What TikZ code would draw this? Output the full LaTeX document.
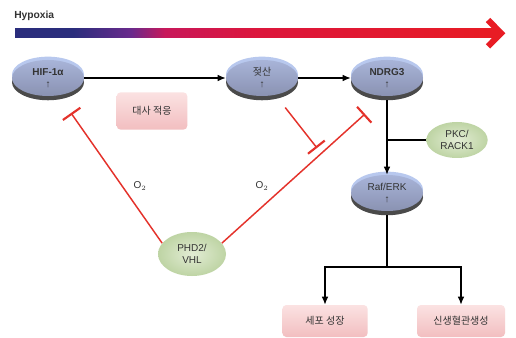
\documentclass[tikz,border=0pt]{standalone}
\usepackage{fontspec}
\setmainfont{Liberation Sans}
\newfontfamily\kr{Noto Sans CJK KR}
\usetikzlibrary{shapes.geometric,arrows.meta,shadows}
\definecolor{navyc}{HTML}{2A2D7C}
\definecolor{purpc}{HTML}{6A2A8C}
\definecolor{crimc}{HTML}{C8185A}
\definecolor{redm}{HTML}{DC163C}
\definecolor{redr}{HTML}{E81C24}
\definecolor{hred}{HTML}{E4322B}
\definecolor{blueTop}{HTML}{A8B4D8}
\definecolor{blueBot}{HTML}{8A92B2}
\definecolor{blueHl}{HTML}{B8C8EE}
\definecolor{shgray}{HTML}{4A4A4A}
\definecolor{greenTop}{HTML}{E2ECD4}
\definecolor{greenBot}{HTML}{BED4A4}
\definecolor{pinkTop}{HTML}{FBE2E2}
\definecolor{pinkBot}{HTML}{F2BEC0}
\definecolor{txt}{HTML}{333333}
\pgfdeclarehorizontalshading{hyp}{100bp}{color(0bp)=(navyc); color(25bp)=(navyc); color(31bp)=(navyc); color(37bp)=(purpc); color(40.5bp)=(crimc); color(50bp)=(redm); color(75bp)=(redr); color(100bp)=(redr)}
\tikzset{
  lab/.style={font=\fontsize{7.5}{9}\selectfont, text=txt, align=center},
  disc/.style={lab, ellipse, inner sep=0pt, minimum width=54pt, minimum height=27pt,
    top color=blueTop, bottom color=blueBot,
    general shadow={shadow xshift=0pt, shadow yshift=-3.2pt, fill=shgray},
    general shadow={shadow xshift=0pt, shadow yshift=2.5pt, fill=blueHl}},
  leaf/.style={lab, ellipse, inner sep=0pt, minimum width=46pt, minimum height=27pt,
    inner color=greenTop, outer color=greenBot},
  pbox/.style={lab, rectangle, rounded corners=3pt, inner sep=0pt,
    top color=pinkTop, bottom color=pinkBot},
  arr/.style={-{Latex[length=6pt,width=5pt]}, line width=0.95pt, black},
  blk/.style={line width=0.95pt, black},
  inh/.style={draw=hred, line width=1.1pt, -{Bar[width=16pt,line width=1.6pt]}}
}
\begin{document}
\begin{tikzpicture}[x=0.75pt,y=-0.75pt]
\useasboundingbox[fill=white] (0,0) rectangle (516,338);
% Hypoxia gradient
\node[anchor=west, inner sep=0pt, font=\fontsize{7.7}{9}\selectfont\bfseries, text=txt] (hyp) at (14,16) {Hypoxia};
\shade[shading=hyp] (15,29) rectangle (499,37.5);
\draw[redr, line width=4.6pt, line join=miter, line cap=butt] (488,20) -- (501,33.2) -- (488,46.4);
% nodes
\node[disc] (hif) at (48,78) {\textbf{HIF-1α}\\\textbf{↑}};
\node[disc] (lac) at (262,78) {{\kr 젖산}\\\textbf{↑}};
\node[disc] (nd) at (387,78) {\textbf{NDRG3}\\\textbf{↑}};
\node[disc] (raf) at (387,193) {Raf/ERK\\\textbf{↑}};
\node[leaf] (pkc) at (457,140) {PKC/\\RACK1};
\node[leaf, minimum width=51pt, minimum height=33pt] (phd) at (192,254) {PHD2/\\VHL};
\node[pbox, minimum width=53pt, minimum height=28pt] (meta) at (152,111) {\kr 대사 적응};
\node[pbox, minimum width=64pt, minimum height=24pt] (g1) at (325,321) {\kr 세포 성장};
\node[pbox, minimum width=66pt, minimum height=24pt] (g2) at (461,321) {\kr 신생혈관생성};
\node[lab] (o1) at (140,186) {O$_2$};
\node[lab] (o2) at (262,186) {O$_2$};
% black connectors
\draw[arr] (hif) -- (lac);
\draw[arr] (lac) -- (nd);
\draw[arr, shorten <=3pt] (nd) -- (raf);
\draw[blk] (pkc) -- (pkc -| nd);
\coordinate (j) at (387,267);
\draw[blk, shorten <=3pt] (raf) -- (j);
\draw[arr] (j) -| (g1);
\draw[arr] (j) -| (g2);
% inhibitions
\coordinate (t1) at (71,113);
\coordinate (t2) at (365,114);
\coordinate (t3) at (317,148);
\draw[inh] (phd.160) -- (t1);
\draw[inh] (phd.20) -- (t2);
\draw[inh, shorten <=12pt] (lac) -- (t3);
\end{tikzpicture}
\end{document}
